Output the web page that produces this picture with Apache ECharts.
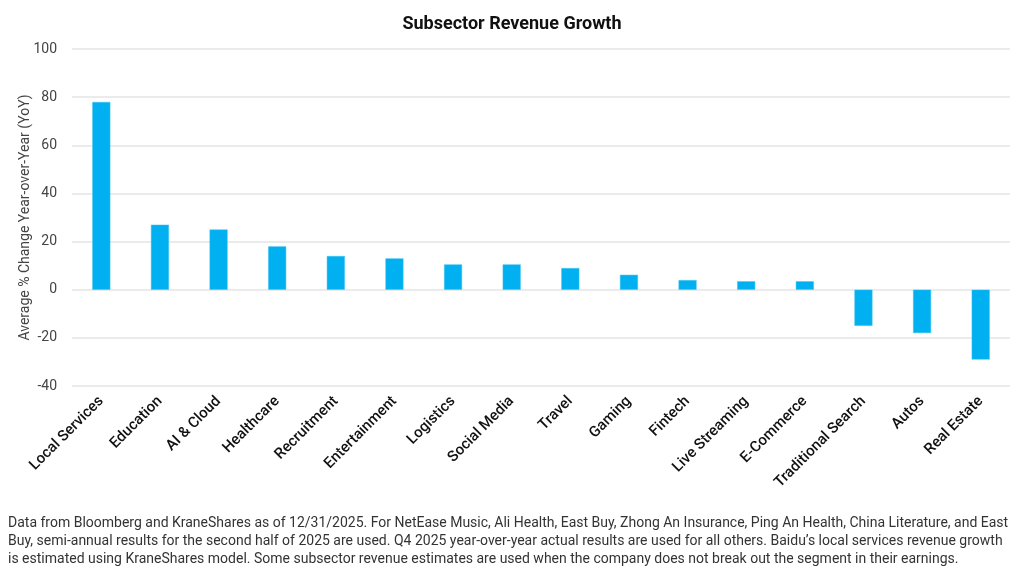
<!DOCTYPE html>
<html>
<head>
<meta charset="utf-8">
<script src="https://cdn.jsdelivr.net/npm/echarts@6/dist/echarts.min.js"></script>
<style>
html,body{margin:0;padding:0;background:#fff;}
#chart{width:1024px;height:576px;}
</style>
</head>
<body>
<div id="chart"></div>
<script>
const categories = ["Local Services","Education","AI & Cloud","Healthcare","Recruitment","Entertainment","Logistics","Social Media","Travel","Gaming","Fintech","Live Streaming","E-Commerce","Traditional Search","Autos","Real Estate"];
const growth = [78, 27, 25, 18, 14, 13, 10.5, 10.5, 9, 6.2, 4, 3.5, 3.5, -15, -18, -29];
const titleText = "Subsector Revenue Growth";
const yAxisName = "Average % Change Year-over-Year (YoY)";
const footnoteLines = [
  "Data from Bloomberg and KraneShares as of 12/31/2025. For NetEase Music, Ali Health, East Buy, Zhong An Insurance, Ping An Health, China Literature, and East",
  "Buy, semi-annual results for the second half of 2025 are used. Q4 2025 year-over-year actual results are used for all others. Baidu\u2019s local services revenue growth",
  "is estimated using KraneShares model. Some subsector revenue estimates are used when the company does not break out the segment in their earnings."
];

const FONT = "Roboto, 'Noto Sans', sans-serif";
const chart = echarts.init(document.getElementById('chart'));
chart.setOption({
  backgroundColor: '#fff',
  animation: false,
  title: {
    text: titleText, left: 'center', top: 10,
    textStyle: {fontFamily: FONT, fontSize: 18, fontWeight: 'bold', color: '#111'}
  },
  grid: {left: 72, right: 14, top: 49, bottom: 190},
  xAxis: {
    type: 'category', data: categories,
    axisLine: {show: false}, axisTick: {show: false},
    axisLabel: {rotate: 45, interval: 0, margin: 13, fontFamily: FONT, fontSize: 15, fontWeight: 500, color: '#111'}
  },
  yAxis: {
    type: 'value', min: -40, max: 100, interval: 20,
    name: yAxisName, nameLocation: 'middle', nameGap: 40, nameRotate: 90, nameMoveOverlap: false,
    nameTextStyle: {fontFamily: FONT, fontSize: 14, color: '#444'},
    axisLine: {show: false}, axisTick: {show: false},
    axisLabel: {margin: 15, fontFamily: FONT, fontSize: 14, color: '#444'},
    splitLine: {lineStyle: {color: '#e4e4e4', width: 1.5}}
  },
  series: [{
    type: 'bar', data: growth, barWidth: 18,
    itemStyle: {color: '#00b0f0', borderColor: '#3cc3f3', borderWidth: 0.5}
  }],
  graphic: footnoteLines.map((t, i) => ({
    type: 'text', left: 8, top: 516 + i * 18,
    style: {text: t, fontFamily: FONT, fontSize: 14, fill: '#333'}
  }))
});
</script>
</body>
</html>
